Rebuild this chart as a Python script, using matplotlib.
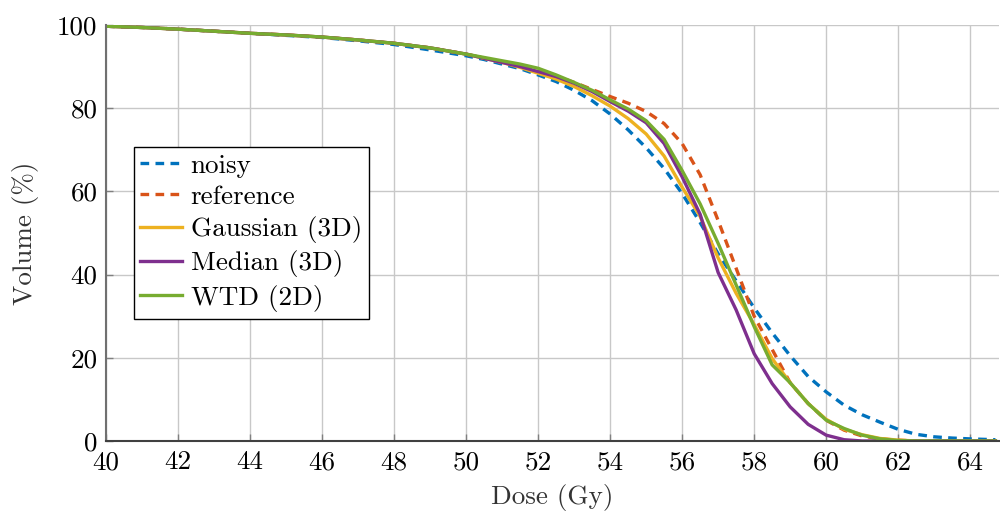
import matplotlib.pyplot as plt

dose = [40, 41, 42, 43, 44, 45, 46, 47, 48, 49, 50, 50.5, 51, 51.5, 52, 52.5,
        53, 53.5, 54, 54.5, 55, 55.5, 56, 56.5, 57, 57.5, 58, 58.5, 59, 59.5,
        60, 60.5, 61, 61.5, 62, 62.5, 63, 63.5, 64, 64.7]

noisy = [99.7, 99.4, 99.0, 98.5, 98.0, 97.5, 97.0, 96.2, 95.3, 94.0, 92.6, 91.7,
         90.6, 89.5, 88.0, 86.4, 84.3, 81.8, 78.6, 74.8, 70.5, 65.5, 59.5, 52.5,
         45.0, 38.5, 32.0, 26.0, 20.5, 15.5, 11.8, 8.6, 6.3, 4.5, 2.8, 1.6,
         1.0, 0.7, 0.5, 0.3]
reference = [99.7, 99.4, 99.0, 98.5, 98.0, 97.6, 97.1, 96.4, 95.6, 94.5, 93.0, 92.0,
             91.0, 90.0, 89.0, 87.7, 86.2, 84.5, 82.8, 81.2, 79.2, 76.3, 71.5, 64.0,
             53.0, 41.5, 30.0, 22.0, 14.0, 9.0, 5.0, 2.6, 1.2, 0.5, 0.2, 0.0,
             0.0, 0.0, 0.0, 0.0]
gaussian = [99.7, 99.4, 99.0, 98.5, 98.0, 97.6, 97.1, 96.4, 95.6, 94.5, 93.0, 92.0,
            91.0, 89.8, 88.4, 87.0, 85.2, 83.0, 80.5, 77.5, 73.8, 68.5, 61.0, 54.0,
            44.0, 35.5, 28.0, 19.8, 14.0, 9.0, 5.2, 2.8, 1.5, 0.6, 0.2, 0.0,
            0.0, 0.0, 0.0, 0.0]
median = [99.7, 99.4, 99.0, 98.5, 98.0, 97.6, 97.1, 96.4, 95.6, 94.5, 93.0, 92.0,
          91.0, 90.0, 88.8, 87.6, 86.0, 84.0, 81.6, 79.3, 76.5, 71.5, 63.5, 54.5,
          40.5, 31.5, 21.0, 13.8, 8.2, 4.0, 1.4, 0.3, 0.0, 0.0, 0.0, 0.0,
          0.0, 0.0, 0.0, 0.0]
wtd = [99.7, 99.4, 99.0, 98.5, 98.0, 97.6, 97.1, 96.4, 95.6, 94.5, 93.0, 92.2,
       91.4, 90.6, 89.6, 88.0, 86.2, 84.3, 82.0, 79.8, 77.0, 72.5, 65.0, 57.0,
       47.5, 37.5, 27.5, 18.3, 14.0, 9.0, 5.0, 3.0, 1.4, 0.5, 0.1, 0.0,
       0.0, 0.0, 0.0, 0.0]

xticks = [40, 42, 44, 46, 48, 50, 52, 54, 56, 58, 60, 62, 64]
yticks = [0, 20, 40, 60, 80, 100]

plt.rcParams['font.family'] = ['cmr10', 'DejaVu Serif']
plt.rcParams['mathtext.fontset'] = 'cm'
plt.rcParams['axes.formatter.use_mathtext'] = True
fs = 19.5

fig = plt.figure(figsize=(10, 5.13), dpi=100)
ax = fig.add_axes([0.106, 0.1404, 0.893, 0.8109])

lw = 2.4
ax.plot(dose, noisy, color='#0072BD', lw=lw, dashes=(2.6, 1.9), label='noisy')
ax.plot(dose, reference, color='#D95319', lw=lw, dashes=(2.6, 1.9), label='reference')
ax.plot(dose, gaussian, color='#EDB120', lw=lw, label='Gaussian (3D)')
ax.plot(dose, median, color='#7E2F8E', lw=lw, label='Median (3D)')
ax.plot(dose, wtd, color='#77AC30', lw=lw, label='WTD (2D)')

ax.set_xlim(40, 64.8)
ax.set_ylim(0, 100)
ax.set_xticks(xticks)
ax.set_xticklabels([str(t) for t in xticks], fontsize=fs)
ax.set_yticks(yticks)
ax.set_yticklabels([str(t) for t in yticks], fontsize=fs)
ax.tick_params(direction='in', length=5, width=1, color='#808080')
ax.tick_params(axis='x', pad=7)
ax.tick_params(axis='y', pad=6)
ax.grid(True, color='#c8c8c8', lw=1)
ax.set_axisbelow(True)

ax.spines['top'].set_visible(False)
ax.spines['right'].set_visible(False)
ax.spines['left'].set_color('#707070')
ax.spines['left'].set_linewidth(1.5)
ax.spines['bottom'].set_color('#404040')
ax.spines['bottom'].set_linewidth(1.5)

ax.set_xlabel('Dose (Gy)', fontsize=fs, color='#333333', labelpad=7)
ax.set_ylabel('Volume (%)', fontsize=fs, color='#333333', labelpad=13)

leg = ax.legend(loc='upper left', bbox_to_anchor=(0.031, 0.707), borderaxespad=0,
                fontsize=fs, fancybox=False, edgecolor='black', framealpha=1,
                handlelength=1.55, handletextpad=0.3, labelspacing=0.27,
                borderpad=0.25)
leg.get_frame().set_linewidth(1.0)

fig.savefig('out.png', dpi=100)
